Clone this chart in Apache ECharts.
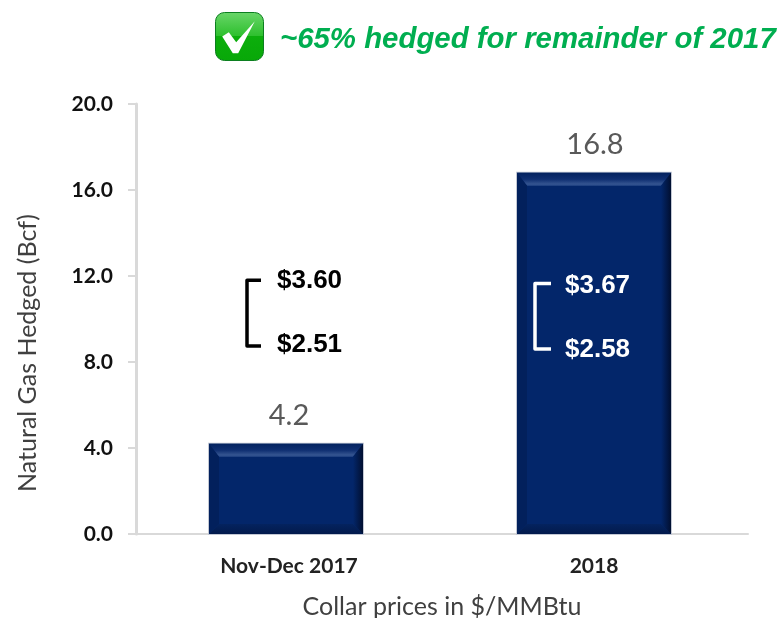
<!DOCTYPE html>
<html><head><meta charset="utf-8">
<style>html,body{margin:0;padding:0;background:#fff}#c{width:778px;height:618px}</style>
<script src="https://cdn.jsdelivr.net/npm/echarts@6/dist/echarts.min.js"></script>
</head><body><div id="c"></div>
<script>
const categories = ['Nov-Dec 2017', '2018'];
const hedged = [4.2, 16.8];
const collarHigh = ['$3.60', '$3.67'];
const collarLow = ['$2.51', '$2.58'];
const bracketTop = [11.8, 11.65];
const bracketBottom = [8.75, 8.6];
const titleText = '~65% hedged for remainder of 2017';

const chart = echarts.init(document.getElementById('c'), null, {renderer:'canvas'});
const FONT = 'Lato,"Open Sans",sans-serif';
const NAVY = '#03266a';

function bevelBar(params, api) {
  const i = api.value(0);
  const top = api.coord([i, api.value(1)]);
  const base = api.coord([i, 0]);
  const w = api.size([1, 0])[0] * 0.5;
  const l = top[0] - w/2 , r = top[0] + w/2, t = top[1], b = base[1];
  const dx = 10, dy = 13, db = 10;
  const poly = (pts, fill) => ({type:'polygon', shape:{points:pts}, style:{fill}});
  return {type:'group', children:[
    {type:'rect', shape:{x:l-1,y:t-1,width:r-l+2,height:b-t+2}, style:{fill:'#c3c8d4'}},
    poly([[l,t],[r,t],[r,b],[l,b]], NAVY),
    poly([[l,t],[r,t],[r-dx,t+dy],[l+dx,t+dy]], {type:'linear',x:0,y:0,x2:0,y2:1,colorStops:[{offset:0,color:'#03225f'},{offset:.5,color:'#0f2f72'},{offset:.85,color:'#33538f'},{offset:1,color:'#2a4b8a'}]}),
    poly([[l,b],[r,b],[r-dx,b-db],[l+dx,b-db]], {type:'linear',x:0,y:1,x2:0,y2:0,colorStops:[{offset:0,color:'#021a4c'},{offset:1,color:'#04235f'}]}),
    poly([[r,t],[r,b],[r-dx,b-db],[r-dx,t+dy]], {type:'linear',x:1,y:0,x2:0,y2:0,colorStops:[{offset:0,color:'#010f30'},{offset:1,color:NAVY}]}),
    poly([[l,t],[l,b],[l+dx,b-db],[l+dx,t+dy]], '#02205c'),
    {type:'text', style:{x:top[0]+(i===0?3:1),y:t-28,text:hedged[i].toFixed(1),fill:'#595959',font:'29px '+FONT,textAlign:'center',textVerticalAlign:'middle'}}
  ]};
}

function bracket(params, api) {
  const i = api.value(0);
  const c = api.coord([i, 0]);
  const hiY = api.coord([i, api.value(1)])[1];
  const loY = api.coord([i, api.value(2)])[1];
  const color = i === 0 ? '#000' : '#fff';
  const x0 = c[0] + (i === 0 ? -39 : -59), x1 = c[0] + (i === 0 ? -25 : -43);
  const tx = c[0] + (i === 0 ? -9 : -29);
  return {type:'group', children:[
    {type:'polyline', shape:{points:[[x1,hiY],[x0,hiY],[x0,loY],[x1,loY]]},
     style:{stroke:color,lineWidth:3.5,fill:'none',lineJoin:'round'}},
    {type:'text', style:{x:tx,y:hiY+(i===0?1:2),text:collarHigh[i],fill:color,font:'bold 26px "Liberation Sans"',textVerticalAlign:'middle'}},
    {type:'text', style:{x:tx,y:loY+(i===0?-1:1),text:collarLow[i],fill:color,font:'bold 26px "Liberation Sans"',textVerticalAlign:'middle'}}
  ]};
}

chart.setOption({
  animation:false,
  backgroundColor:'#fff',
  title:{text:titleText,left:275,top:20,textStyle:{fontFamily:'"Liberation Sans"',fontSize:29.4,fontWeight:'bold',fontStyle:'italic',color:'#00ae50'}},
  grid:{left:132,right:30,top:104,bottom:84,containLabel:false,outerBoundsMode:'none'},
  xAxis:{type:'category',
    data:[{value:categories[0],textStyle:{padding:[0,0,0,6]}},{value:categories[1]}],
    name:'Collar prices in $/MMBtu',nameLocation:'middle',nameGap:60,
    nameTextStyle:{fontFamily:FONT,fontSize:25,color:'#404040',padding:[0,0,0,4]},
    axisTick:{show:false},
    axisLine:{lineStyle:{color:'#d9d9d9',width:2}},
    axisLabel:{margin:22,fontFamily:FONT,fontSize:21,fontWeight:'bold',color:'#222'}},
  yAxis:{type:'value',min:0,max:20,interval:4,offset:-4,
    name:'Natural Gas Hedged (Bcf)',nameLocation:'middle',nameGap:96,
    nameTextStyle:{fontFamily:FONT,fontSize:25,color:'#404040',padding:[0,68,0,0]},
    splitLine:{show:false},
    axisLine:{show:true,lineStyle:{color:'#d9d9d9',width:3}},
    axisTick:{show:true,length:8,lineStyle:{color:'#d9d9d9',width:2}},
    axisLabel:{margin:23,fontFamily:FONT,fontSize:21,fontWeight:'bold',color:'#111',padding:[5,0,0,0],
      formatter:v=>v.toFixed(1)}},
  series:[
    {type:'custom',renderItem:bevelBar,data:categories.map((c,i)=>[i,hedged[i]]),encode:{x:0,y:1},z:2},
    {type:'custom',renderItem:bracket,data:categories.map((c,i)=>[i,bracketTop[i],bracketBottom[i]]),encode:{x:0,y:1},z:3,silent:true}
  ],
  graphic:[
    {type:'group',left:215,top:12,children:[
      {type:'rect',shape:{x:0,y:0,width:48,height:48,r:9},style:{fill:{type:'linear',x:0,y:0,x2:0,y2:1,colorStops:[{offset:0,color:'#6ad66a'},{offset:.48,color:'#2fc02f'},{offset:.5,color:'#0cae0c'},{offset:1,color:'#08a808'}]},stroke:'#0c7f20',lineWidth:1}},
      {type:'polygon',shape:{points:[[6.7,24],[13.3,19.7],[20.7,29.7],[39.3,8.7],[22.7,40.7],[17.3,40.7]]},style:{fill:'#fff'}}
    ]}
  ]
});
</script></body></html>
